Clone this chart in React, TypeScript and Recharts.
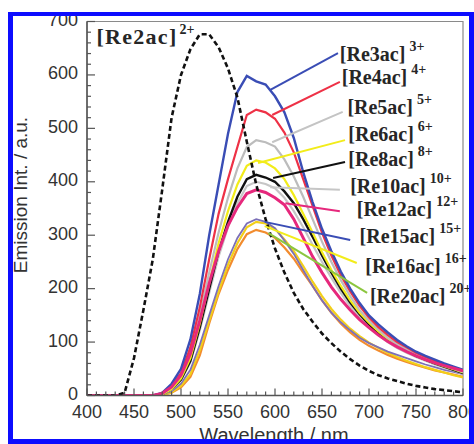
import React from 'react';
import { LineChart, Line, XAxis, YAxis, ReferenceArea, ReferenceLine, ReferenceDot } from 'recharts';

const wavelengths = [400,410,420,430,440,450,460,470,480,490,500,510,520,530,540,550,560,570,580,590,600,610,620,630,640,650,660,670,680,690,700,710,720,730,740,750,760,770,780,790,800];

const re2 = [0,0,0,0,5,70,160,255,385,520,600,648,676,676,652,612,558,475,395,330,275,230,192,162,138,116,98,82,68,56,46,38,32,27,22,18,15,12,10,8,6];
const re3 = [0,0,0,0,0,0,0,0,5,22,50,105,190,300,395,490,568,598,588,582,560,530,482,418,362,312,270,232,200,173,150,133,118,104,92,82,74,67,60,54,48];
const re4 = [0,0,0,0,0,0,0,0,4,18,42,90,165,255,340,405,465,525,535,530,518,492,455,405,355,305,262,225,195,168,146,128,113,100,90,80,72,65,58,52,46];
const re5 = [0,0,0,0,0,0,0,0,3,15,38,80,150,230,305,370,425,465,478,474,466,442,410,372,330,288,250,216,186,160,140,123,108,96,86,77,69,62,56,50,44];
const re6 = [0,0,0,0,0,0,0,0,2,12,32,70,135,210,285,345,395,430,440,436,425,405,375,340,305,268,235,205,178,155,136,120,106,95,85,76,68,61,55,49,43];
const re8 = [0,0,0,0,0,0,0,0,2,12,30,65,128,200,270,325,372,405,413,408,400,382,360,330,297,262,230,200,174,152,133,117,104,93,83,74,67,60,54,48,42];
const re10 = [0,0,0,0,0,0,0,0,2,11,28,62,122,192,260,315,360,392,400,396,388,370,345,315,282,250,220,192,167,146,128,113,100,89,80,72,65,58,52,47,41];
const re12 = [0,0,0,0,0,0,0,0,4,16,38,78,140,210,270,318,352,378,385,380,370,357,330,295,260,230,203,180,160,142,127,113,101,91,82,74,67,61,56,51,46];
const re15 = [0,0,0,0,0,0,0,0,2,8,22,48,95,150,205,255,295,322,330,325,313,290,265,235,205,178,155,137,122,108,98,90,82,76,70,64,58,53,48,44,40];
const re16 = [0,0,0,0,0,0,0,0,1,6,18,40,85,140,195,245,285,315,325,322,312,292,270,242,213,186,162,142,125,111,99,89,80,72,65,59,53,48,43,38,34];
const re20 = [0,0,0,0,0,0,0,0,1,5,15,35,75,135,190,235,274,302,310,305,295,277,256,230,205,178,155,135,118,104,93,84,76,69,63,57,52,47,43,39,35];

const xTicks = [400,410,420,430,440,450,460,470,480,490,500,510,520,530,540,550,560,570,580,590,600,610,620,630,640,650,660,670,680,690,700,710,720,730,740,750,760,770,780,790,800];
const yTicks = [0,20,40,60,80,100,120,140,160,180,200,220,240,260,280,300,320,340,360,380,400,420,440,460,480,500,520,540,560,580,600,620,640,660,680,700];

const seriesKeys = ['re20','re16','re15','re10','re8','re6','re5','re4','re3','re12'];
const seriesColors: Record<string,string> = {
  re20: '#f28c2e', re16: '#f2cf1a', re15: '#7c70b8', re10: '#c6c6c6', re8: '#111111',
  re6: '#f2ec1a', re5: '#bcbcbc', re4: '#ee3146', re3: '#3a4db5', re12: '#e6287c',
};
const seriesWidths: Record<string,number> = {
  re20: 2.2, re16: 2.2, re15: 1.8, re10: 2.2, re8: 2.4, re6: 2.2, re5: 2.2, re4: 2.2, re3: 2.4, re12: 3,
};

const data = wavelengths.map((w, i) => ({
  w, re2: re2[i], re3: re3[i], re4: re4[i], re5: re5[i], re6: re6[i], re8: re8[i],
  re10: re10[i], re12: re12[i], re15: re15[i], re16: re16[i], re20: re20[i],
}));

// annotation labels: name, charge, anchor (data coords), leader line (data coords), leader colour
const labelNames = ['[Re3ac]','[Re4ac]','[Re5ac]','[Re6ac]','[Re8ac]','[Re10ac]','[Re12ac]','[Re15ac]','[Re16ac]','[Re20ac]'];
const labelCharges = ['3+','4+','5+','6+','8+','10+','12+','15+','16+','20+'];
const labelAnchorX = [669,671,677,678,678,680,687,690,696,701];
const labelAnchorY = [626,583,527,476,430,379,336,285,229,173];
const leaderX1 = [667,669,672,674.5,674.5,669,669,680,687,698];
const leaderY1 = [641,587,531,478,437,385,345,291,248,192];
const leaderX2 = [595,597,597,582,598,595,611,589,589,593];
const leaderY2 = [572,525,474,435,407,390,360,325,317,304];
const leaderColors = ['#3a4db5','#ee3146','#c4c4c4','#f2ec1a','#111111','#c6c6c6','#e6287c','#3a4db5','#f2ec1a','#8cc63f'];

const AXIS = '#555';
const tickFont = "'Liberation Sans', Arial, Helvetica, sans-serif";
const serif = "'Liberation Serif', 'Times New Roman', Times, serif";

const XTick = (props: any) => {
  const { x, y, payload } = props;
  const v = payload.value as number;
  const major = v % 50 === 0;
  return (
    <g>
      <line x1={x} x2={x} y1={y} y2={y - (major ? 7 : 4)} stroke={AXIS} strokeWidth={1.2} />
      {major && (
        <text x={x} y={y + 16} textAnchor="middle" dominantBaseline="central" fontFamily={tickFont} fontSize={18} fill="#333">{v}</text>
      )}
    </g>
  );
};

const YTick = (props: any) => {
  const { x, y, payload } = props;
  const v = payload.value as number;
  const major = v % 100 === 0;
  return (
    <g>
      <line x1={x} x2={x + (major ? 8 : 4)} y1={y} y2={y} stroke={AXIS} strokeWidth={1.2} />
      {major && (
        <text x={x - 9} y={y - 1.5} textAnchor="end" dominantBaseline="central" fontFamily={tickFont} fontSize={18} fill="#333">{v}</text>
      )}
    </g>
  );
};

const makeLabel = (name: string, charge: string, big: boolean) => (p: any) => (
  <text x={p.cx} y={p.cy} fontFamily={serif} fontWeight="bold" fontSize={big ? 22 : 20} fill="#262626" letterSpacing={big ? 1.3 : 0}>
    <tspan>{name}</tspan>
    <tspan dx={big ? 2 : 4} dy={-10} fontSize={14} letterSpacing={0}>{charge}</tspan>
  </text>
);

export default function App() {
  return (
    <div style={{ position: 'absolute', left: 0, top: 0, width: 474, height: 444, background: '#fff', overflow: 'hidden' }}>
      <LineChart width={474} height={444} data={data} margin={{ top: 21.5, right: 11, bottom: 18.5, left: 27 }}>
        <XAxis dataKey="w" type="number" domain={[400, 800]} ticks={xTicks} interval={0} height={30}
          tickSize={0} tickMargin={0} tickLine={false} tick={<XTick />} axisLine={{ stroke: AXIS, strokeWidth: 1.5 }} allowDataOverflow />
        <YAxis type="number" domain={[0, 700]} ticks={yTicks} interval={0} width={60}
          tickSize={0} tickMargin={0} tickLine={false} tick={<YTick />} axisLine={{ stroke: AXIS, strokeWidth: 1.5 }} allowDataOverflow />
        <ReferenceArea x1={400} x2={800} y1={0} y2={700} fill="none" fillOpacity={0} stroke="#8a8a8a" strokeWidth={1.2} ifOverflow="visible" />
        {seriesKeys.map((k) => (
          <Line key={k} type="linear" dataKey={k} stroke={seriesColors[k]} strokeWidth={seriesWidths[k]} dot={false} isAnimationActive={false} />
        ))}
        <Line type="linear" dataKey="re2" stroke="#111" strokeWidth={2.6} strokeDasharray="5 3" dot={false} isAnimationActive={false} />
        {labelNames.map((n, i) => (
          <ReferenceLine key={'l' + i} segment={[{ x: leaderX1[i], y: leaderY1[i] }, { x: leaderX2[i], y: leaderY2[i] }]}
            stroke={leaderColors[i]} strokeWidth={2} ifOverflow="visible" />
        ))}
        {labelNames.map((n, i) => (
          <ReferenceDot key={'t' + i} x={labelAnchorX[i]} y={labelAnchorY[i]} r={0} ifOverflow="visible"
            shape={makeLabel(n, labelCharges[i], false)} />
        ))}
        <ReferenceDot x={410} y={658} r={0} ifOverflow="visible" shape={makeLabel('[Re2ac]', '2+', true)} />
      </LineChart>
      <svg width={474} height={444} style={{ position: 'absolute', left: 0, top: 0, pointerEvents: 'none' }}>
        <text x={27} y={195} transform="rotate(-90 27 195)" textAnchor="middle" fontFamily={tickFont} fontSize={19} fill="#333">Emission Int. / a.u.</text>
        <text x={274} y={442} textAnchor="middle" fontFamily={tickFont} fontSize={20} fill="#333">Wavelength / nm</text>
      </svg>
      <div style={{ position: 'absolute', left: 8, top: 12, width: 466, height: 432, boxSizing: 'border-box',
        borderStyle: 'solid', borderColor: '#0d0dff', borderWidth: '4px 5px 5px 5px', pointerEvents: 'none' }} />
    </div>
  );
}
